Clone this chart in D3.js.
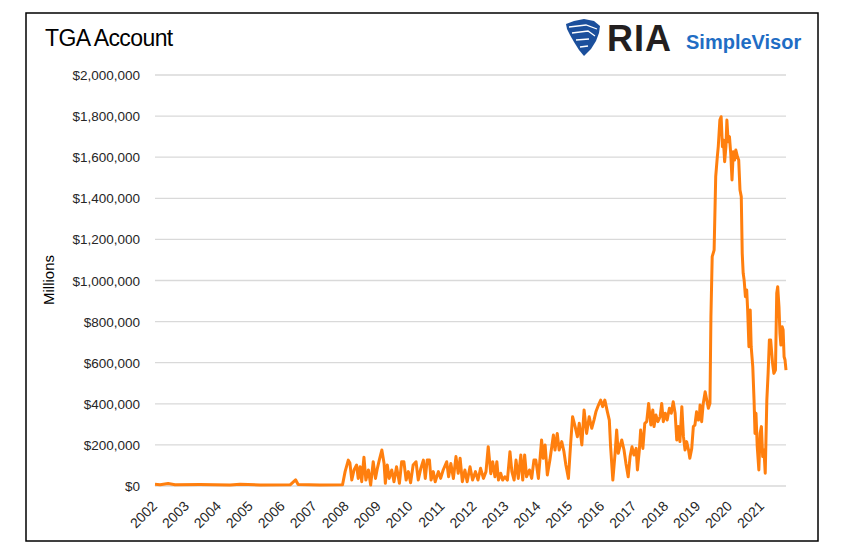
<!DOCTYPE html>
<html>
<head>
<meta charset="utf-8">
<script src="https://cdn.jsdelivr.net/npm/d3@7"></script>
<style>
  body { margin: 0; background: #fff; }
  text { font-family: "Liberation Sans", Arial, sans-serif; }
</style>
</head>
<body>
<script>

// tick labels
var yearLabels = [2002, 2003, 2004, 2005, 2006, 2007, 2008, 2009, 2010, 2011,
                  2012, 2013, 2014, 2015, 2016, 2017, 2018, 2019, 2020, 2021];
var yTicks = [0, 200000, 400000, 600000, 800000, 1000000, 1200000, 1400000, 1600000, 1800000, 2000000];

// TGA balance, millions, [year position, value]
var tgaFlat = [
  [2002.00, 8000], [2002.16, 6000], [2002.41, 12000], [2002.63, 6000], [2003.41, 7000],
  [2004.35, 5000], [2004.66, 8000], [2005.29, 5000], [2006.23, 6000], [2006.40, 30000],
  [2006.48, 7000], [2007.16, 5000], [2007.87, 6000]
];
var tgaNoisy = [
  [2007.95, 70000], [2008.05, 126000], [2008.10, 112000], [2008.16, 29000], [2008.23, 78000],
  [2008.31, 102000], [2008.36, 37000], [2008.42, 94000], [2008.47, 21000], [2008.54, 140000],
  [2008.60, 29000], [2008.68, 78000], [2008.75, 5000], [2008.83, 118000], [2008.90, 37000],
  [2008.96, 86000], [2009.02, 126000], [2009.10, 175000], [2009.17, 110000], [2009.21, 13000],
  [2009.27, 102000], [2009.33, 37000], [2009.41, 78000], [2009.48, 21000], [2009.56, 94000],
  [2009.65, 13000], [2009.72, 118000], [2009.79, 118000], [2009.86, 29000], [2009.93, 70000],
  [2010.00, 16000], [2010.08, 102000], [2010.17, 118000], [2010.24, 29000], [2010.32, 86000],
  [2010.40, 126000], [2010.46, 37000], [2010.52, 126000], [2010.59, 126000], [2010.64, 29000],
  [2010.71, 70000], [2010.77, 21000], [2010.87, 70000], [2010.94, 37000], [2011.02, 78000],
  [2011.13, 118000], [2011.19, 45000], [2011.26, 110000], [2011.34, 37000], [2011.42, 143000],
  [2011.49, 62000], [2011.55, 135000], [2011.62, 21000], [2011.70, 78000], [2011.77, 21000],
  [2011.86, 94000], [2011.94, 29000], [2012.03, 70000], [2012.11, 29000], [2012.19, 86000],
  [2012.28, 37000], [2012.36, 70000], [2012.43, 191000], [2012.51, 60000], [2012.57, 118000],
  [2012.64, 45000], [2012.70, 118000], [2012.75, 29000], [2012.82, 62000], [2012.88, 29000],
  [2012.95, 45000], [2013.03, 29000], [2013.11, 167000], [2013.17, 70000], [2013.24, 29000],
  [2013.30, 126000], [2013.37, 37000], [2013.45, 151000], [2013.51, 29000], [2013.57, 151000],
  [2013.63, 45000], [2013.72, 78000], [2013.79, 37000], [2013.86, 126000], [2013.92, 126000],
  [2014.00, 37000]
];
var tgaRising = [
  [2014.10, 224000], [2014.15, 135000], [2014.21, 200000], [2014.28, 54000], [2014.36, 126000],
  [2014.47, 248000], [2014.52, 175000], [2014.59, 256000], [2014.65, 175000], [2014.73, 216000],
  [2014.80, 167000], [2014.86, 102000], [2014.94, 37000], [2015.01, 208000], [2015.07, 337000],
  [2015.15, 289000], [2015.22, 240000], [2015.28, 305000], [2015.36, 200000], [2015.43, 370000],
  [2015.51, 256000], [2015.59, 337000], [2015.67, 281000], [2015.74, 321000], [2015.80, 361000],
  [2015.88, 394000], [2015.95, 418000], [2016.01, 386000], [2016.08, 418000], [2016.16, 361000],
  [2016.22, 321000], [2016.26, 191000], [2016.33, 29000], [2016.40, 159000], [2016.45, 272000],
  [2016.50, 159000], [2016.55, 191000], [2016.61, 224000], [2016.68, 175000], [2016.74, 110000],
  [2016.81, 45000], [2016.87, 143000], [2016.93, 191000], [2016.99, 151000], [2017.06, 183000],
  [2017.10, 78000], [2017.16, 175000], [2017.20, 272000], [2017.27, 183000], [2017.33, 305000],
  [2017.39, 313000], [2017.45, 402000], [2017.52, 297000], [2017.58, 370000], [2017.62, 289000],
  [2017.68, 345000], [2017.74, 313000], [2017.81, 337000], [2017.86, 402000], [2017.91, 313000],
  [2017.97, 354000], [2018.03, 321000], [2018.10, 378000], [2018.16, 354000], [2018.22, 410000],
  [2018.28, 354000], [2018.33, 224000], [2018.38, 289000], [2018.43, 216000], [2018.49, 386000],
  [2018.54, 240000], [2018.59, 175000], [2018.64, 216000], [2018.70, 175000], [2018.74, 135000],
  [2018.80, 183000], [2018.85, 289000], [2018.90, 297000], [2018.95, 361000], [2019.01, 321000],
  [2019.04, 340000], [2019.06, 394000], [2019.11, 313000], [2019.16, 402000], [2019.22, 459000],
  [2019.27, 418000], [2019.32, 378000], [2019.37, 402000]
];
var tgaSpike = [
  [2019.40, 824000], [2019.44, 1116000], [2019.50, 1148000], [2019.55, 1505000], [2019.60, 1602000],
  [2019.63, 1651000], [2019.68, 1781000], [2019.72, 1797000], [2019.76, 1651000], [2019.79, 1684000],
  [2019.83, 1578000], [2019.87, 1651000], [2019.90, 1781000], [2019.94, 1675000], [2019.98, 1700000],
  [2020.02, 1619000], [2020.06, 1489000], [2020.10, 1627000], [2020.14, 1586000], [2020.18, 1635000],
  [2020.23, 1602000], [2020.27, 1586000], [2020.31, 1440000], [2020.35, 1408000], [2020.38, 1132000],
  [2020.41, 1035000], [2020.44, 1002000], [2020.48, 921000], [2020.52, 954000], [2020.55, 856000],
  [2020.59, 678000], [2020.63, 856000], [2020.66, 678000], [2020.71, 581000], [2020.75, 418000],
  [2020.78, 256000], [2020.81, 354000], [2020.85, 191000], [2020.90, 78000], [2020.94, 256000],
  [2020.98, 289000], [2021.02, 143000], [2021.06, 175000], [2021.10, 62000], [2021.15, 418000],
  [2021.19, 548000], [2021.23, 711000], [2021.27, 711000], [2021.33, 597000], [2021.37, 548000],
  [2021.42, 564000], [2021.46, 938000], [2021.49, 970000], [2021.53, 873000], [2021.56, 743000],
  [2021.59, 686000], [2021.63, 775000], [2021.66, 759000], [2021.69, 629000], [2021.72, 613000],
  [2021.75, 564000]
];

var tga = tgaFlat.concat(tgaNoisy, tgaRising, tgaSpike);

var W = 843, H = 555;

var svg = d3.select("body")
	.append("svg")
	.attr("width", W)
	.attr("height", H);

// frame
svg.append("rect")
	.attr("x", 26).attr("y", 13)
	.attr("width", 792).attr("height", 528)
	.attr("fill", "#fff")
	.attr("stroke", "#000")
	.attr("stroke-width", 1.5);

var x = d3.scaleLinear().domain([2002, 2021.75]).range([155, 786]);
var y = d3.scaleLinear().domain([0, 2000000]).range([486, 75]);

var fmt = function(v) { return "$" + d3.format(",")(v); };

// gridlines
svg.append("g").selectAll("line")
	.data(yTicks)
	.enter()
	.append("line")
	.attr("x1", x(2002)).attr("x2", x(2021.75))
	.attr("y1", function(d) { return y(d); })
	.attr("y2", function(d) { return y(d); })
	.attr("stroke", "#d9d9d9")
	.attr("stroke-width", 1.3);

// y labels
svg.append("g").selectAll("text")
	.data(yTicks)
	.enter()
	.append("text")
	.attr("x", 140)
	.attr("y", function(d) { return y(d) + 5; })
	.attr("text-anchor", "end")
	.attr("font-size", "13.5px")
	.attr("fill", "#262626")
	.text(fmt);

// x labels, rotated
svg.append("g").selectAll("text")
	.data(yearLabels)
	.enter()
	.append("text")
	.attr("transform", function(d) { return "translate(" + (x(d) + 3) + ",507) rotate(-45)"; })
	.attr("text-anchor", "end")
	.attr("font-size", "14px")
	.attr("fill", "#262626")
	.text(function(d) { return d; });

// axis title
svg.append("text")
	.attr("transform", "translate(54,280) rotate(-90)")
	.attr("text-anchor", "middle")
	.attr("font-size", "15px")
	.attr("fill", "#000")
	.text("Millions");

// the line
var line = d3.line()
	.x(function(d) { return x(d[0]); })
	.y(function(d) { return y(d[1]); });

svg.append("path")
	.datum(tga)
	.attr("d", line)
	.attr("fill", "none")
	.attr("stroke", "#ff7f0e")
	.attr("stroke-width", 3)
	.attr("stroke-linejoin", "round");

// title
svg.append("text")
	.attr("x", 45).attr("y", 46)
	.attr("font-size", "23px")
	.attr("letter-spacing", "-0.6px")
	.attr("fill", "#000")
	.text("TGA Account");

// logo
var logo = svg.append("g");
logo.append("path")
	.attr("d", "M566,24 L574,21 L584,19 L594,21 L600,26 L599,33 L596,41 L591,49 L584,56 L579,50 L574,42 L570,35 L567,29 Z")
	.attr("fill", "#1b4f9c");
logo.append("path")
	.attr("d", "M569,27 L586,25 L597,29 M572,33 L588,31 L595,36 M576,40 L589,39 M580,47 L588,46")
	.attr("fill", "none")
	.attr("stroke", "#ffffff")
	.attr("stroke-width", 1.3);
logo.append("text")
	.attr("x", 607).attr("y", 51)
	.attr("font-size", "36px")
	.attr("font-weight", "bold")
	.attr("letter-spacing", "1px")
	.attr("fill", "#231f20")
	.text("RIA");
logo.append("text")
	.attr("x", 686).attr("y", 49)
	.attr("font-size", "20px")
	.attr("font-weight", "bold")
	.attr("fill", "#1f6dc4")
	.text("SimpleVisor");

</script>
</body>
</html>
